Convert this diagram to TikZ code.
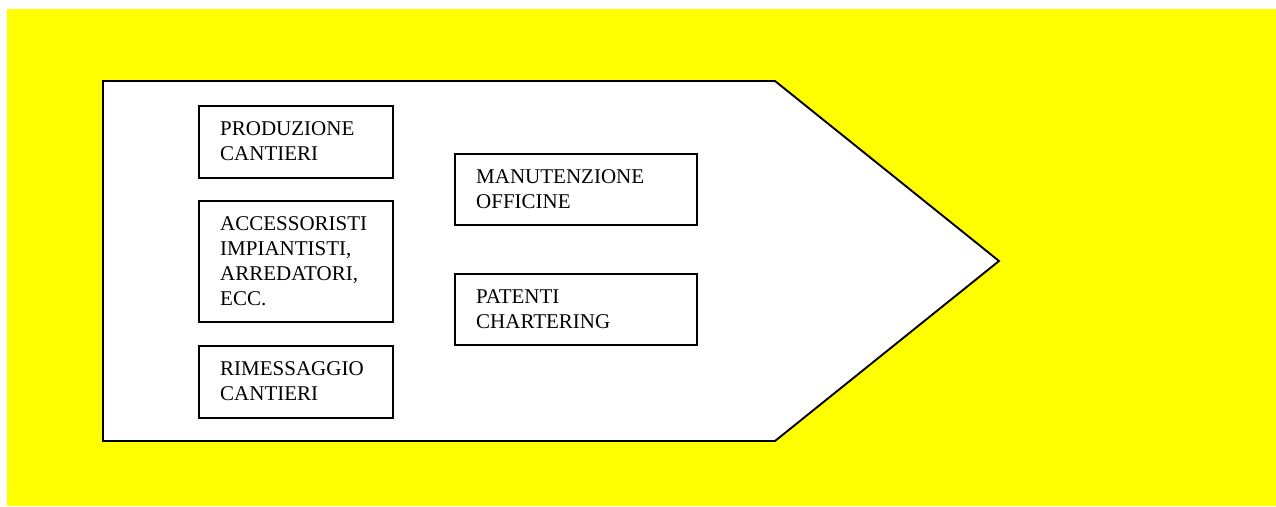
\documentclass[tikz,border=0pt]{standalone}
\usepackage{fontspec}
\setmainfont{Liberation Serif}
\usetikzlibrary{calc}
\definecolor{bgyellow}{RGB}{255,255,0}
\tikzset{
  boxst/.style={draw=black, line width=1.9pt, fill=white, inner sep=0pt, anchor=north west},
  txtst/.style={inner sep=0pt, anchor=base west, font=\fontsize{21}{25}\selectfont},
}
\newcommand{\lbl}[1]{\parbox[t]{200pt}{\raggedright #1}}
\begin{document}
\begin{tikzpicture}[x=1pt,y=-1pt]
\useasboundingbox (0,0) rectangle (1276,506);
\fill[white] (0,0) rectangle (1276,506);
\fill[bgyellow] (7,9) rectangle (1276,506);
\coordinate (a1) at (103,81);
\coordinate (a2) at (775,81);
\coordinate (a3) at (999,261);
\coordinate (a4) at (775,441);
\coordinate (a5) at (103,441);
\draw[line width=1.9pt, fill=white, line join=miter] (a1) -- (a2) -- (a3) -- (a4) -- (a5) -- cycle;

\node[boxst, minimum width=194, minimum height=72] (b1) at (198,105) {};
\node[boxst, minimum width=194, minimum height=121] (b2) at (198,200) {};
\node[boxst, minimum width=194, minimum height=72] (b3) at (198,345) {};
\node[boxst, minimum width=242, minimum height=71] (b4) at (454,153) {};
\node[boxst, minimum width=242, minimum height=71] (b5) at (454,273) {};

\node[txtst] (t1) at ($(b1.north west)+(22,30)$) {\lbl{PRODUZIONE\\CANTIERI}};
\node[txtst] (t2) at ($(b2.north west)+(22,30)$) {\lbl{ACCESSORISTI\\IMPIANTISTI,\\ARREDATORI,\\ECC.}};
\node[txtst] (t3) at ($(b3.north west)+(22,30)$) {\lbl{RIMESSAGGIO\\CANTIERI}};
\node[txtst] (t4) at ($(b4.north west)+(22,30)$) {\lbl{MANUTENZIONE\\OFFICINE}};
\node[txtst] (t5) at ($(b5.north west)+(22,30)$) {\lbl{PATENTI\\CHARTERING}};
\end{tikzpicture}
\end{document}
